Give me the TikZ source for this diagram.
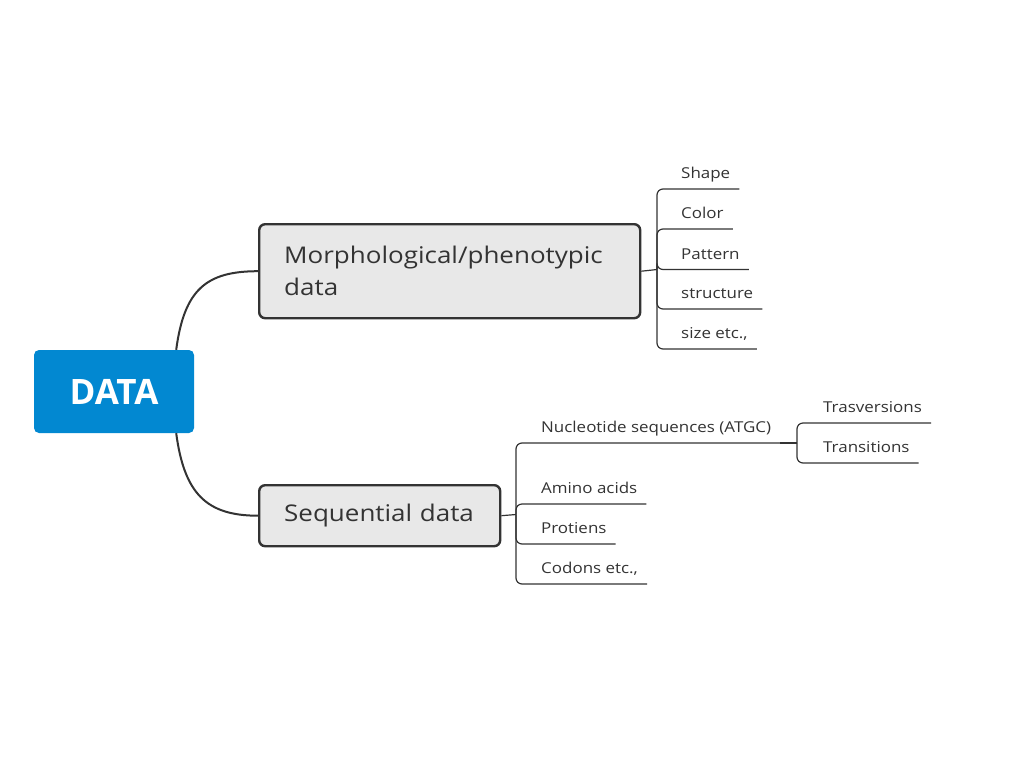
\documentclass[tikz,border=0pt]{standalone}
\usepackage{fontspec}
\setmainfont{Open Sans}
\newfontfamily\widefont{Open Sans}[FakeStretch=1.13]
\begin{document}
\begin{tikzpicture}
[x=1pt,y=-1pt,
  rootdecorate/.style={shape=rectangle,rounded corners=5pt,fill=rootblue,
    text=white,font=\fontsize{35}{40}\selectfont\bfseries,
    minimum width=160pt,minimum height=83pt,inner sep=0pt},
  topicdecorate/.style={shape=rectangle,rounded corners=6pt,draw=linegray,
    line width=2.4pt,fill=boxgray,text=linegray,align=left,
    font=\widefont\fontsize{23}{32}\selectfont,inner xsep=25pt,inner ysep=0pt},
  leafdecorate/.style={shape=rectangle,text=linegray,
    font=\widefont\fontsize{15}{18}\selectfont,text height=11pt,text depth=3pt,
    inner xsep=9pt,inner ysep=7pt},
  curvedecorate/.style={draw=linegray,line width=2pt},
  branchdecorate/.style={draw=linegray,line width=1.2pt,rounded corners=6pt}]
\definecolor{rootblue}{RGB}{2,136,209}
\definecolor{boxgray}{RGB}{232,232,232}
\definecolor{linegray}{RGB}{51,51,51}
\useasboundingbox (0,0) rectangle (1021,772);
%% main nodes
\node (data) at (114,391.5) [rootdecorate] {DATA};
\node (morph) at (258,223) [topicdecorate,anchor=north west,
  minimum width=381pt,minimum height=94pt,text width=331pt]
  {Morphological/phenotypic\\data};
\node (seq) at (258,484) [topicdecorate,anchor=north west,
  minimum width=241pt,minimum height=61pt,text width=191pt]
  {Sequential data};
%% curves from the root
\draw[curvedecorate] ([xshift=-18pt]data.north east)
  .. controls +(8,-60) and +(-52,0) .. (morph.west);
\draw[curvedecorate] ([xshift=-18pt]data.south east)
  .. controls +(8,60) and +(-52,0) .. (seq.west);
%% hubs
\coordinate (mhub) at (657,269.5);
\coordinate (shub) at (516,514.5);
\coordinate (nhub) at (797,443);
\draw[branchdecorate] (morph.east) -- (mhub);
\draw[branchdecorate] (seq.east) -- (shub);
%% leaves of the first topic
\foreach \nodename/\txt/\y in {shape/Shape/189, color/Color/229,
  pattern/Pattern/269.5, structure/structure/309, size/{size etc.,}/349}
{
  \node (\nodename) at (672,\y) [leafdecorate,anchor=south west] {\txt};
  \draw[branchdecorate] (mhub) |- (\nodename.south west) -- (\nodename.south east);
}
%% leaves of the second topic
\foreach \nodename/\txt/\y in {nuc/{Nucleotide sequences (ATGC)}/443,
  amino/Amino acids/504, prot/Protiens/544, codon/{Codons etc.,}/584}
{
  \node (\nodename) at (532,\y) [leafdecorate,anchor=south west] {\txt};
  \draw[branchdecorate] (shub) |- (\nodename.south west) -- (\nodename.south east);
}
\draw[branchdecorate] (nuc.south east) -- (nhub);
\foreach \nodename/\txt/\y in {trasv/Trasversions/423, trans/Transitions/463}
{
  \node (\nodename) at (814,\y) [leafdecorate,anchor=south west] {\txt};
  \draw[branchdecorate] (nhub) |- (\nodename.south west) -- (\nodename.south east);
}
\end{tikzpicture}
\end{document}
